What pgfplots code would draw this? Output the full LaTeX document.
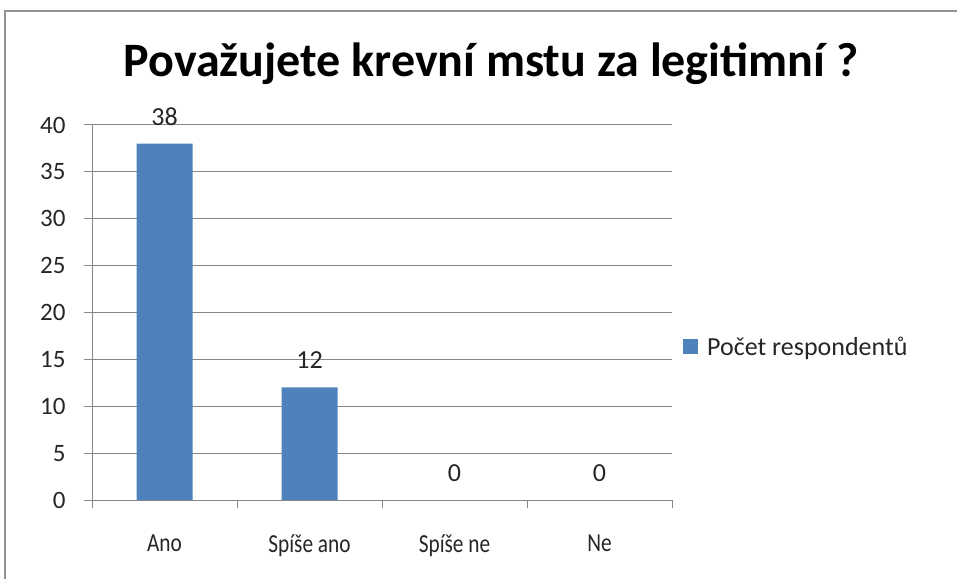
\documentclass[border=0pt]{standalone}
\usepackage{pgfplots}
\pgfplotsset{compat=1.18}
\usepackage{fontspec}
\setmainfont{Carlito}
\newfontfamily\condensed{Carlito}[FakeStretch=0.82]
\definecolor{barblue}{HTML}{4F81BD}
\definecolor{gridgray}{HTML}{878787}
\begin{document}
\begin{tikzpicture}[x=1pt,y=1pt]
\useasboundingbox (0,0) rectangle (957,578);
\draw[gridgray!90,line width=2pt] (5,-5) -- (5,567) -- (962,567);
\node[font=\fontsize{48}{52}\selectfont\bfseries, anchor=base] at (491,501) {Považujete krevní mstu za legitimní ?};
\begin{axis}[
  at={(92pt,78pt)}, anchor=south west,
  scale only axis, width=580pt, height=375pt,
  /pgf/number format/assume math mode=true,
  xmin=-0.5, xmax=3.5, ymin=0, ymax=40,
  ytick={0,5,...,40},
  xtick={0,1,2,3},
  xticklabels={Ano,Spíše ano,Spíše ne,Ne},
  minor xtick={-0.5,0.5,1.5,2.5,3.5},
  major x tick style={draw=none},
  minor x tick style={gridgray, line width=1pt},
  y tick style={gridgray, line width=1pt},
  tick align=outside,
  minor tick length=8pt, major tick length=8pt,
  axis x line*=bottom, axis y line*=left,
  axis line style={gridgray, line width=1pt, -},
  ymajorgrids, major grid style={gridgray, line width=1pt},
  ticklabel style={font=\fontsize{25}{28}\selectfont, text=black!85},
  xticklabel style={font=\condensed\fontsize{26}{28}\selectfont, yshift=-23pt},
  yticklabel style={xshift=-15pt},
  legend style={at={(1.0,0.408)}, anchor=west, xshift=11pt, draw=none, fill=none,
    font=\fontsize{26}{28}\selectfont, text=black!85, inner sep=0pt},
  legend image code/.code={\fill[barblue] (0pt,-7.5pt) rectangle (15pt,7.5pt);},
  legend cell align=left,
]
\addplot[ybar, bar width=56pt, fill=barblue, draw=none,
  nodes near coords, every node near coord/.append style={font=\fontsize{26}{28}\selectfont, text=black!85, yshift=15pt}]
  coordinates {(0,38) (1,12) (2,0) (3,0)};
\addlegendentry{\hspace{7pt}Počet respondentů}
\end{axis}
\end{tikzpicture}
\end{document}
